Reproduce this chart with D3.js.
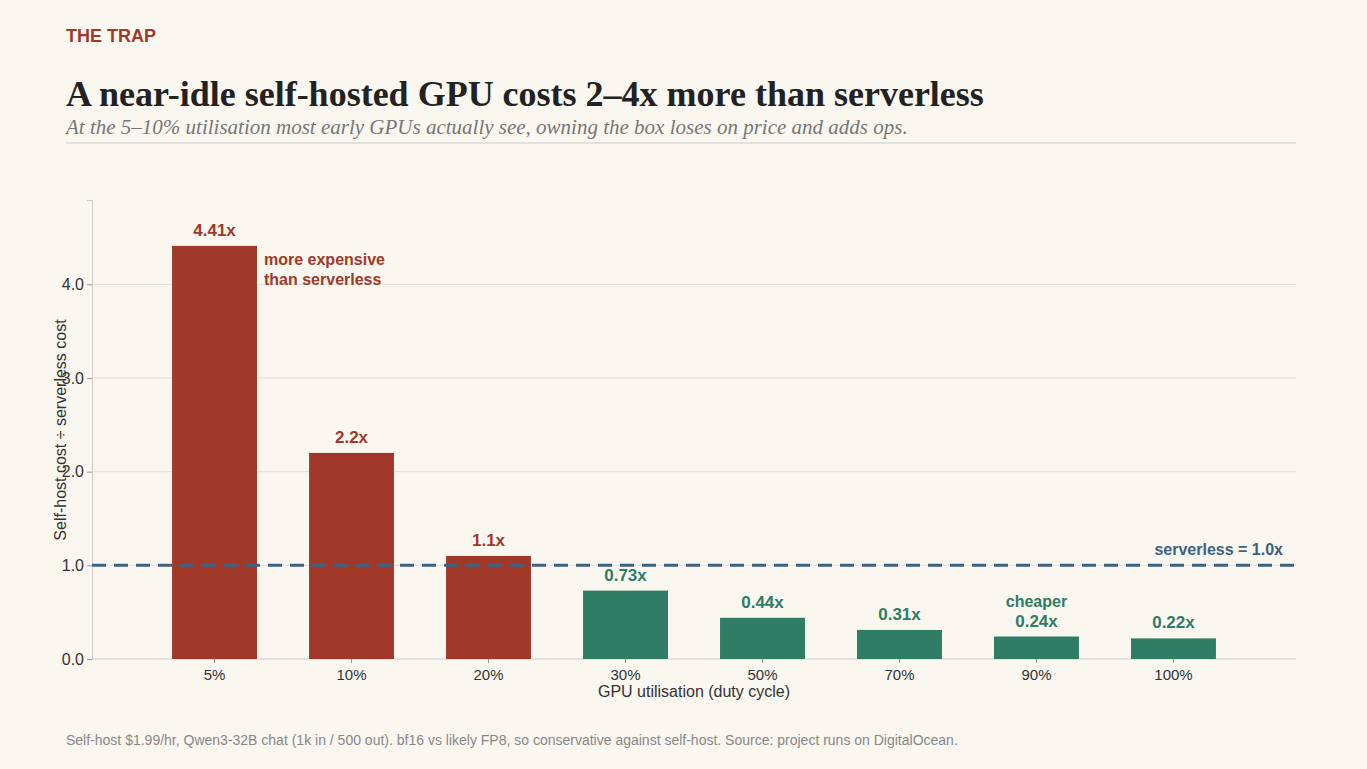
<!DOCTYPE html>
<html><head><meta charset="utf-8">
<script src="https://cdn.jsdelivr.net/npm/d3@7"></script>
<style>
body{margin:0;background:#faf6f0;}
text{font-family:"Liberation Sans",Arial,sans-serif;}
</style></head>
<body><svg id="c" width="1367" height="769"></svg>
<script>
const categories = ["5%","10%","20%","30%","50%","70%","90%","100%"];
const ratios = [4.41,2.2,1.1,0.73,0.44,0.31,0.24,0.22];
const ratioLabels = ["4.41x","2.2x","1.1x","0.73x","0.44x","0.31x","0.24x","0.22x"];
const yTicks = [0,1,2,3,4];

const red = "#a0392a", green = "#2e7d64", blue = "#3d6180";
const svg = d3.select("#c");
svg.append("rect").attr("width",1367).attr("height",769).attr("fill","#faf6f0");

svg.append("text").attr("x",66).attr("y",42).attr("fill",red)
  .attr("font-size",18).attr("font-weight","bold").text("THE TRAP");
svg.append("text").attr("x",66).attr("y",106).attr("fill","#222")
  .style("font-family","'Liberation Serif',serif").attr("font-size",36).attr("font-weight","bold")
  .text("A near-idle self-hosted GPU costs 2–4x more than serverless");
svg.append("text").attr("x",66).attr("y",134).attr("fill","#777")
  .style("font-family","'Liberation Serif',serif").attr("font-size",21).attr("font-style","italic")
  .text("At the 5–10% utilisation most early GPUs actually see, owning the box loses on price and adds ops.");
svg.append("line").attr("x1",66).attr("x2",1296).attr("y1",143).attr("y2",143).attr("stroke","#ccc");

const x = d3.scaleBand().domain(categories).range([120,1268]).padding(0.38);
const y = d3.scaleLinear().domain([0,4.9]).range([659,200]);

svg.append("g").selectAll("line").data(yTicks.slice(1)).enter().append("line")
  .attr("x1",92).attr("x2",1296).attr("y1",d=>y(d)).attr("y2",d=>y(d)).attr("stroke","#e2ded8");

const ya = svg.append("g").attr("transform","translate(92,0)").call(d3.axisLeft(y).tickValues(yTicks).tickSize(5));
ya.select(".domain").attr("stroke","#ccc");
ya.selectAll(".tick line").attr("stroke","#999");
ya.selectAll("text").attr("font-size",16).attr("fill","#333").style("font-family","'Liberation Sans',sans-serif");

const xa = svg.append("g").attr("transform","translate(0,659)").call(d3.axisBottom(x).tickSize(4));
xa.select(".domain").attr("d","M92,0H1296").attr("stroke","#ccc");
xa.selectAll(".tick line").attr("stroke","#999");
xa.selectAll("text").attr("font-size",15).attr("fill","#333").attr("dy","0.9em").style("font-family","'Liberation Sans',sans-serif");

svg.selectAll(".bar").data(categories).enter().append("rect")
  .attr("x",d=>x(d)).attr("width",x.bandwidth())
  .attr("y",(d,i)=>y(ratios[i])).attr("height",(d,i)=>659-y(ratios[i]))
  .attr("fill",(d,i)=>ratios[i]>1?red:green);

svg.selectAll(".lab").data(categories).enter().append("text")
  .attr("x",d=>x(d)+x.bandwidth()/2).attr("y",(d,i)=>y(ratios[i])-10)
  .attr("text-anchor","middle").attr("font-size",17).attr("font-weight","bold")
  .attr("fill",(d,i)=>ratios[i]>1?red:green).text((d,i)=>ratioLabels[i]);

svg.append("line").attr("x1",92).attr("x2",1296).attr("y1",y(1)).attr("y2",y(1))
  .attr("stroke",blue).attr("stroke-width",3).attr("stroke-dasharray","14,8");
svg.append("text").attr("x",1283).attr("y",y(1)-10).attr("text-anchor","end")
  .attr("font-size",16).attr("font-weight","bold").attr("fill",blue).text("serverless = 1.0x");

const ann = svg.append("text").attr("x",264).attr("y",265).attr("fill",red).attr("font-size",16).attr("font-weight","bold");
ann.append("tspan").attr("x",264).text("more expensive");
ann.append("tspan").attr("x",264).attr("dy",20).text("than serverless");
svg.append("text").attr("x",x("90%")+x.bandwidth()/2).attr("y",y(ratios[6])-30)
  .attr("text-anchor","middle").attr("font-size",16).attr("font-weight","bold").attr("fill",green).text("cheaper");

svg.append("text").attr("x",694).attr("y",697).attr("text-anchor","middle").attr("font-size",16).attr("fill","#333")
  .text("GPU utilisation (duty cycle)");
svg.append("text").attr("transform","translate(66,430) rotate(-90)").attr("text-anchor","middle")
  .attr("font-size",16).attr("fill","#333").text("Self-host cost ÷ serverless cost");

svg.append("text").attr("x",66).attr("y",745).attr("font-size",14).attr("fill","#888")
  .text("Self-host $1.99/hr, Qwen3-32B chat (1k in / 500 out). bf16 vs likely FP8, so conservative against self-host. Source: project runs on DigitalOcean.");
</script></body></html>
